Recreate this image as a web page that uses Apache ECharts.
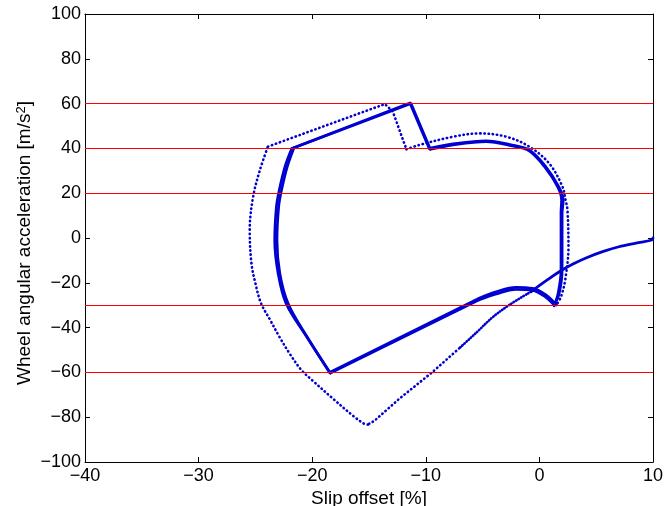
<!DOCTYPE html>
<html>
<head>
<meta charset="utf-8">
<script src="https://cdn.jsdelivr.net/npm/echarts@6/dist/echarts.min.js"></script>
<style>
html,body{margin:0;padding:0;background:#fff;}
#chart{width:664px;height:506px;}
</style>
</head>
<body>
<div id="chart"></div>
<script>
// Axis ranges / ticks
const xRange = [-40, 10];
const xStep = 10;
const yRange = [-100, 100];
const yStep = 20;

// Horizontal red threshold lines (acceleration levels)
const thresholds = [60, 40, 20, -30, -60];

// First trajectory: initial descent from (10,0), dense part
const initialSolid = [
  [10, 0], [9.9, -0.9], [8.5, -2.3], [7.0, -3.9], [5.5, -6.2], [4.1, -8.9],
  [3.0, -11.5], [2.0, -14.3], [0.6, -19.0], [-0.75, -24.0]
];
// continuing, medium density dots
const initialDense = [
  [-0.75, -24.0], [-2.65, -29.9], [-4.1, -35.3], [-5.5, -42.0], [-7.05, -49.2]
];
// sparse dotted outer loop, split at its corners
const outerDown = [[-7.05, -49.2], [-9.45, -60.0], [-12.3, -71.6], [-14.5, -81.5], [-15.1, -83.3]];
const outerLeft = [
  [-15.1, -83.3], [-15.4, -83.0], [-16.3, -79.8], [-18.2, -71.6], [-20.0, -63.5], [-20.96, -58.9],
  [-22.0, -51.5], [-22.9, -44.0], [-23.7, -36.6], [-24.5, -29.2], [-25.0, -20.2],
  [-25.35, -11.3], [-25.5, 3.6], [-25.2, 18.4], [-24.6, 30.4], [-23.9, 40.8]
];
const outerTop = [[-23.9, 40.8], [-13.6, 59.8], [-12.9, 56.4], [-11.9, 42.3], [-11.7, 39.6]];
const outerArc = [
  [-11.7, 39.6], [-10.6, 41.5], [-7.6, 45.2], [-5.3, 46.7], [-2.9, 45.2], [-0.9, 40.8],
  [0.86, 33.3], [2.03, 22.9], [2.3, 17.0], [2.47, 12.5], [2.56, -3.9],
  [2.27, -18.75], [1.9, -26.2], [1.5, -29.9]
];
// Repeated limit cycles (thick), each split into segments at its corners
const cycleA = [
  [[1.5, -29.9], [0.57, -25.4], [-0.6, -22.5], [-2.07, -22.0], [-3.8, -24.0], [-5.3, -26.9]],
  [[-5.3, -26.9], [-18.47, -60.0]],
  [[-18.47, -60.0], [-20.5, -44.0], [-22.3, -29.2], [-23.0, -15.8], [-23.3, -0.9], [-23.15, 14.0],
   [-22.9, 21.4], [-22.4, 31.8], [-21.8, 40.0]],
  [[-21.8, 40.0], [-11.4, 60.3], [-9.7, 40.0]],
  [[-9.7, 40.0], [-7.6, 42.0], [-4.7, 43.4], [-2.4, 41.5], [-0.9, 39.3], [0.57, 31.8],
   [1.7, 22.9], [2.1, 17.0], [2.0, 11.0], [2.0, -14.3], [1.74, -24.7], [1.3, -30.0]]
];
const cycleB = [
  [[1.3, -30.0], [0.5, -26.2], [-0.6, -23.4], [-2.07, -23.0], [-3.8, -25.0], [-5.3, -27.6]],
  [[-5.3, -27.6], [-18.4, -60.3]],
  [[-18.4, -60.3], [-20.4, -44.5], [-22.1, -29.5], [-22.85, -15.8], [-23.1, -0.9], [-22.95, 14.0],
   [-22.7, 21.4], [-22.2, 31.8], [-21.6, 40.3]],
  [[-21.6, 40.3], [-11.3, 60.0], [-9.6, 39.6]],
  [[-9.6, 39.6], [-7.6, 41.6], [-4.7, 43.0], [-2.4, 41.1], [-0.9, 38.9], [0.5, 31.5],
   [1.6, 22.9], [1.95, 17.0], [1.9, 11.0], [1.9, -14.3], [1.65, -24.7], [1.3, -30.3]]
];
// which cycle segments are curved (smoothed) vs straight
const cycleSmooth = [true, false, true, false, true];

const blue = '#0000d0';
const font = 'Liberation Sans, Arial, Helvetica, sans-serif';
const fmt = v => (v < 0 ? '\u2212' + Math.abs(v) : String(v));

const chart = echarts.init(document.getElementById('chart'), null, {renderer: 'canvas'});

const axisCommon = {
  axisLine: {show: true, onZero: false, lineStyle: {color: '#000', width: 1}},
  axisTick: {show: true, inside: true, length: 5, lineStyle: {color: '#000', width: 1}},
  splitLine: {show: false}
};

const solidLine = (data, width, smooth) => ({
  type: 'line', data, showSymbol: false, symbol: 'none', z: 3, smooth: smooth ? 0.35 : false,
  xAxisIndex: 0, yAxisIndex: 0,
  lineStyle: {color: blue, width, cap: 'round', join: 'round'},
  animation: false
});
const dotLine = (data, gap, smooth) => ({
  type: 'line', data, showSymbol: false, symbol: 'none', z: 3, smooth: smooth ? 0.35 : false,
  xAxisIndex: 0, yAxisIndex: 0,
  lineStyle: {color: blue, width: 2.6, type: [0.4, gap], cap: 'round'},
  animation: false
});

const series = [
  {
    type: 'line', data: [], z: 1, silent: true, animation: false,
    markLine: {
      silent: true, symbol: ['none', 'none'], animation: false,
      label: {show: false},
      lineStyle: {color: '#ff0000', width: 1, type: 'solid'},
      emphasis: {disabled: true},
      data: thresholds.map(v => ({yAxis: v}))
    }
  },
  solidLine(initialSolid, 2.8, true),
  dotLine(initialDense, 2.4, true),
  dotLine(outerDown, 3.8, false),
  dotLine(outerLeft, 3.8, true),
  dotLine(outerTop, 3.8, false),
  dotLine(outerArc, 3.8, true)
];
cycleA.forEach((seg, i) => series.push(solidLine(seg, 2.7, cycleSmooth[i])));
cycleB.forEach((seg, i) => series.push(solidLine(seg, 2.7, cycleSmooth[i])));

chart.setOption({
  animation: false,
  backgroundColor: '#fff',
  grid: {left: 85, right: 11, top: 14, bottom: 44, outerBoundsMode: 'none', containLabel: false},
  xAxis: [
    Object.assign({
      type: 'value', position: 'bottom', min: xRange[0], max: xRange[1], interval: xStep,
      name: 'Slip offset [%]', nameLocation: 'middle', nameGap: 27, nameMoveOverlap: false,
      nameTextStyle: {fontFamily: font, fontSize: 19, color: '#000'},
      axisLabel: {fontFamily: font, fontSize: 18, color: '#000', margin: 5, formatter: fmt}
    }, axisCommon),
    Object.assign({
      type: 'value', position: 'top', min: xRange[0], max: xRange[1], interval: xStep,
      axisLabel: {show: false}
    }, axisCommon)
  ],
  yAxis: [
    Object.assign({
      type: 'value', position: 'left', min: yRange[0], max: yRange[1], interval: yStep,
      name: 'Wheel angular acceleration [m/s{sup|2}]', nameLocation: 'middle', nameGap: 51,
      nameMoveOverlap: false, nameRotate: 90,
      nameTextStyle: {fontFamily: font, fontSize: 19, color: '#000', padding: [0, 10, 0, 0],
        rich: {sup: {fontFamily: font, fontSize: 13, color: '#000', verticalAlign: 'top', lineHeight: 13, padding: [0, 0, 9, 0]}}},
      axisLabel: {fontFamily: font, fontSize: 18, color: '#000', margin: 4, formatter: fmt}
    }, axisCommon),
    Object.assign({
      type: 'value', position: 'right', min: yRange[0], max: yRange[1], interval: yStep,
      axisLabel: {show: false}
    }, axisCommon)
  ],
  series
});
</script>
</body>
</html>
